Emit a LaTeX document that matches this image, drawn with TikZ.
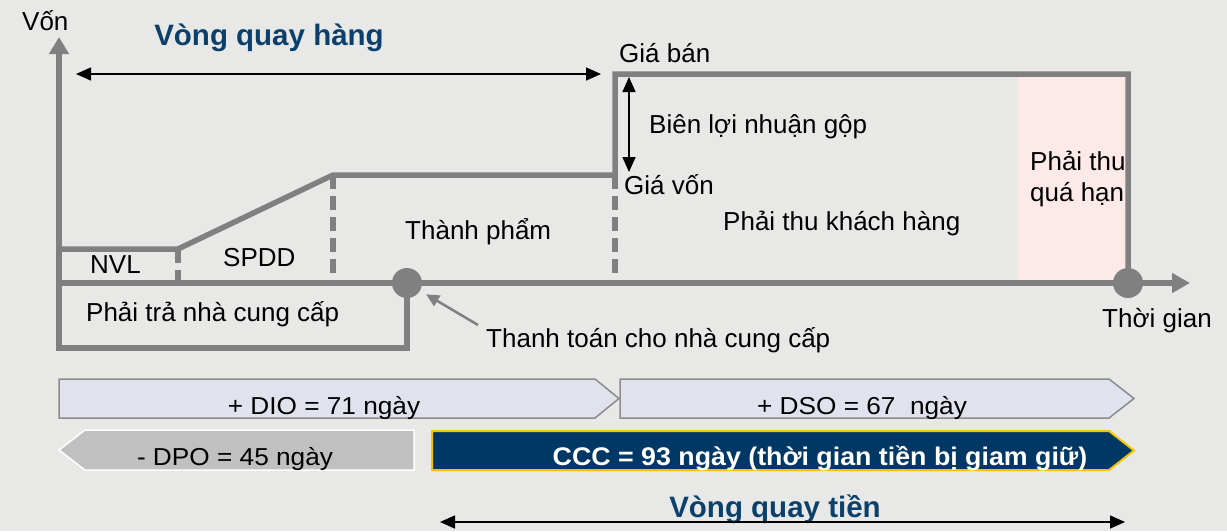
\documentclass[tikz,border=0pt]{standalone}
\usepackage{fontspec}
\setmainfont{Liberation Sans}
\newfontfamily\barfont[FakeStretch=1.07]{Liberation Sans}
\newfontfamily\cccfont[FakeStretch=1.05]{Liberation Sans}
\usetikzlibrary{arrows.meta}

\definecolor{bg}{RGB}{232,232,230}
\definecolor{axisgray}{RGB}{128,128,128}
\definecolor{overdue}{RGB}{253,234,232}
\definecolor{lavender}{RGB}{224,226,238}
\definecolor{barline}{RGB}{140,140,140}
\definecolor{dpofill}{RGB}{192,192,192}
\definecolor{navy}{RGB}{0,56,101}
\definecolor{gold}{RGB}{242,197,0}
\definecolor{titleblue}{RGB}{12,64,108}

\tikzset{
  axis/.style={draw=axisgray, line width=5.5pt},
  dashln/.style={axis, dash pattern=on 14pt off 7pt},
  dot/.style={circle, fill=axisgray, inner sep=0pt, minimum size=30pt},
  lbl/.style={inner sep=0pt, anchor=base west, font=\fontsize{26}{32}\selectfont},
  title/.style={inner sep=0pt, anchor=base, text=titleblue,
    font=\fontsize{29.5}{34}\selectfont\bfseries},
  barlbl/.style={inner sep=0pt, anchor=base, font=\barfont\fontsize{24.5}{29}\selectfont},
  thin arrow/.style={draw=black, line width=1.6pt,
    {Triangle[length=15pt,width=13pt]}-{Triangle[length=15pt,width=13pt]}},
  pointer/.style={draw=axisgray, line width=2.5pt, -{Triangle[length=13pt,width=12pt]}},
  lightbar/.style={fill=lavender, draw=barline, line width=1.5pt},
}

\begin{document}
\begin{tikzpicture}[x=1pt,y=-1pt]
  \useasboundingbox (0,0) rectangle (1227,531);
  \fill[bg] (0,0) rectangle (1227,531);

  % key points of the chart
  \coordinate (o)     at (59,283);
  \coordinate (ytop)  at (59,37);
  \coordinate (xend)  at (1190,283);
  \coordinate (nvlL)  at (59,249);
  \coordinate (nvlR)  at (178,249);
  \coordinate (wipR)  at (333,175);
  \coordinate (costR) at (615,175);
  \coordinate (saleL) at (615,74);
  \coordinate (saleR) at (1128,74);

  % overdue receivables band
  \fill[overdue] (1018,74) rectangle (1128,283);

  % payables box and the vertical axis
  \draw[axis, line join=miter, -{Triangle[length=17pt,width=19pt]}]
    (407,283) -- (407,348) -- (59,348) -- (ytop);
  % time axis
  \draw[axis, -{Triangle[length=18pt,width=19pt]}] (o) -- (xend);

  % capital profile
  \draw[axis, line join=miter] (nvlL) -- (nvlR) -- (wipR) -- (costR) -- (saleL)
    -- (saleR) -- (1128,283);
  \draw[dashln] (nvlR) -- (178,283);
  \draw[dashln] (wipR) -- (333,283);
  \draw[dashln] (costR) -- (615,283);

  \node[dot] (pay) at (407,283) {};
  \node[dot] (collect) at (1128,283) {};

  % cycle arrows
  \coordinate (invL) at (76,74);
  \coordinate (invR) at (601,74);
  \draw[thin arrow] (invL) -- (invR);
  \coordinate (mTop) at (629,77);
  \coordinate (mBot) at (629,172);
  \draw[thin arrow] (mTop) -- (mBot);

  % labels of the chart
  \node[lbl] (von) at (22,30) {Vốn};
  \node[title] (vqh) at (269,45) {Vòng quay hàng};
  \node[lbl] (giaban) at (619,62) {Giá bán};
  \node[lbl] (bien) at (649,133) {Biên lợi nhuận gộp};
  \node[lbl] (giavon) at (624,194) {Giá vốn};
  \node[lbl] (ptkh) at (723,230) {Phải thu khách hàng};
  \node[lbl, align=left, anchor=north west] (ptqh) at (1030,151)
    {Phải thu\\[-1pt]quá hạn};
  \node[lbl] (tp) at (405,239) {Thành phẩm};
  \node[lbl] (nvl) at (90,273) {NVL};
  \node[lbl] (spdd) at (223,266) {SPDD};
  \node[lbl] (ptncc) at (86,321) {Phải trả nhà cung cấp};
  \node[lbl] (ttncc) at (486,347) {Thanh toán cho nhà cung cấp};
  \node[lbl] (tg) at (1102,327) {Thời gian};

  \coordinate (ptail) at (478,325);
  \draw[pointer, shorten >=7pt] (ptail) -- (pay);

  % day-count bars
  \draw[lightbar] (59,379) -- (595,379) -- (619,398.5) -- (595,418) -- (59,418) -- cycle;
  \draw[lightbar] (620,379) -- (1109,379) -- (1134,398.5) -- (1109,418) -- (620,418) -- cycle;
  \draw[fill=dpofill, draw=white, line width=1.5pt]
    (85,430) -- (414,430) -- (414,470) -- (85,470) -- (59,450) -- cycle;
  \draw[fill=navy, draw=gold, line width=2pt]
    (432,431) -- (1109,431) -- (1134,450.5) -- (1109,470) -- (432,470) -- cycle;

  \node[barlbl] (dio) at (324,414) {+ DIO = 71 ngày};
  \node[barlbl] (dso) at (862,414) {+ DSO = 67\ \ ngày};
  \node[barlbl] (dpo) at (235,465) {- DPO = 45 ngày};
  \node[inner sep=0pt, anchor=base, text=white,
    font=\cccfont\fontsize{25.5}{30}\selectfont\bfseries] (ccc) at (820,465)
    {CCC = 93 ngày (thời gian tiền bị giam giữ)};

  \node[title] (vqt) at (775,517) {Vòng quay tiền};
  \coordinate (cashL) at (440,522);
  \coordinate (cashR) at (1125,522);
  \draw[thin arrow] (cashL) -- (cashR);
\end{tikzpicture}
\end{document}
